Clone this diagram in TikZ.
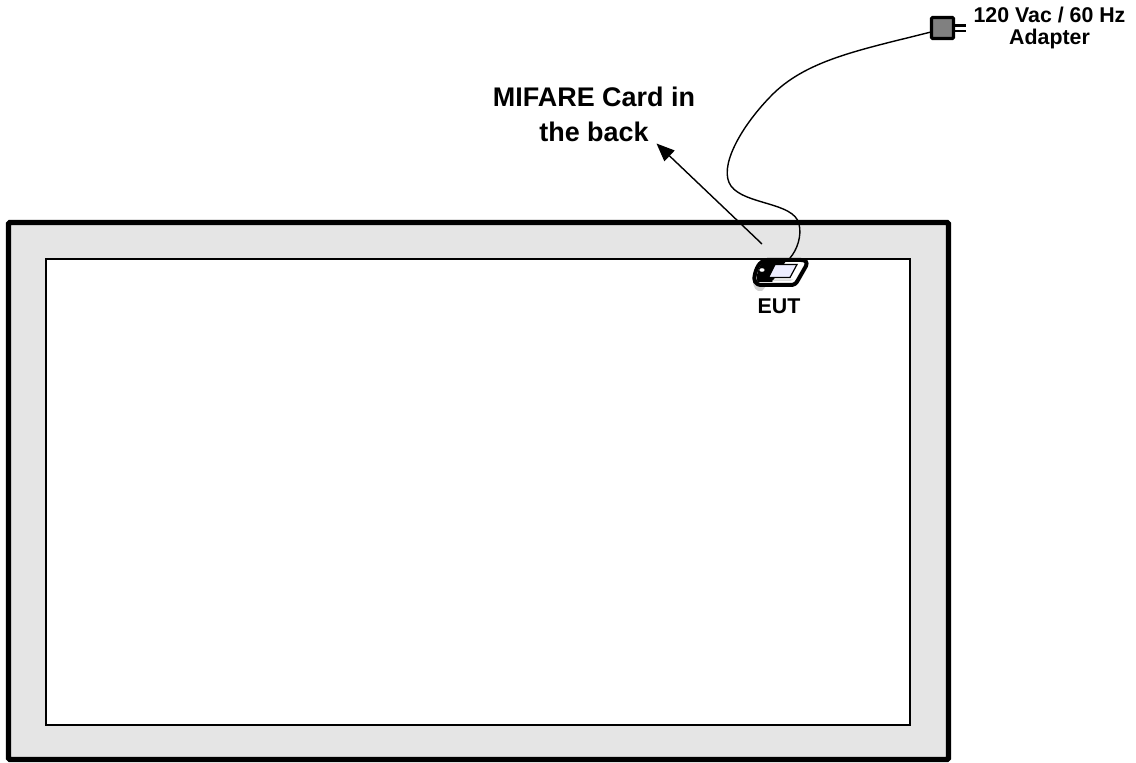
\documentclass[tikz,border=0pt]{standalone}
\usepackage{fontspec}
\setmainfont{Liberation Sans}
\usetikzlibrary{arrows.meta}
\tikzset{
  lbl/.style={font=\bfseries\fontsize{#1}{#1}\selectfont, align=center, inner sep=0pt, text=black},
  wire/.style={draw=black, line width=1.05pt, line cap=round},
}
\begin{document}
\begin{tikzpicture}[x=0.75pt,y=-0.75pt]
\useasboundingbox (0,0) rectangle (1136,763);
% frame
\node[draw=black, fill=black!10, line width=3.9pt, rounded corners=1pt, minimum width=940*0.75pt, minimum height=537*0.75pt, inner sep=0pt] (frame) at (478.5,491) {};
\node[draw=black, fill=white, line width=0.95pt, minimum width=864*0.75pt, minimum height=466*0.75pt, inner sep=0pt] (screen) at (478,492) {};
% EUT
\fill[black!18] (753,280) .. controls (753,288) and (756,292) .. (762,291) -- (767,285) -- (756,276) -- cycle;
\draw[line width=3pt, fill=white, line join=round] (767,260) -- (801,260) .. controls (806,260) and (807.5,262) .. (806,266) -- (798,280) .. controls (796,284) and (794,285) .. (790,285) -- (762,285) .. controls (755,285) and (753,280) .. (755,274) .. controls (757,266) and (761,260) .. (767,260) -- cycle;
\fill[black] (765,261) -- (786,261) -- (772,282) -- (758,282) .. controls (755,279) and (758,265) .. (765,261) -- cycle;
\fill[white] (762,270) ellipse (2.6 and 1.8);
\draw[line width=0.9pt, fill=blue!7] (775,264.5) -- (797,264.5) -- (790,277.5) -- (768.5,277.5) -- cycle;
\fill[black!15] (772,281) -- (790,281) -- (793,279.5) -- (774,279.5) -- cycle;
\coordinate (eutplug) at (790,258);
% adapter
\draw[line width=2.3pt, fill=black!50, rounded corners=0.8pt] (931.5,17.5) rectangle (953.5,38.5);
\node[inner sep=0pt, minimum size=0pt] (adapter) at (931,32) {};
\draw[line width=2.2pt] (954,25.5) -- (966,25.5);
\draw[line width=2.2pt] (954,31) -- (966,31);
% cable
\draw[wire] (eutplug) .. controls (797,250) and (802,236) .. (799,224) .. controls (794,202) and (745,205) .. (731,186) .. controls (718,168) and (740,128) .. (770,97) .. controls (805,60) and (860,50) .. (adapter.center);
% labels
\node[lbl=16] (adlbl) at (1049.5,28) {120 Vac / 60 Hz\\Adapter};
\node[lbl=20.2] (card) at (594,114.5) {MIFARE Card in\\[6pt]the back};
\node[lbl=16] (eut) at (779,306.5) {EUT};
% arrow
\coordinate (arrstart) at (762,244);
\coordinate (arrend) at (656.5,143.5);
\draw[line width=1.05pt, -{Triangle[length=13.5pt,width=11pt]}] (arrstart) -- (arrend);
\end{tikzpicture}
\end{document}
